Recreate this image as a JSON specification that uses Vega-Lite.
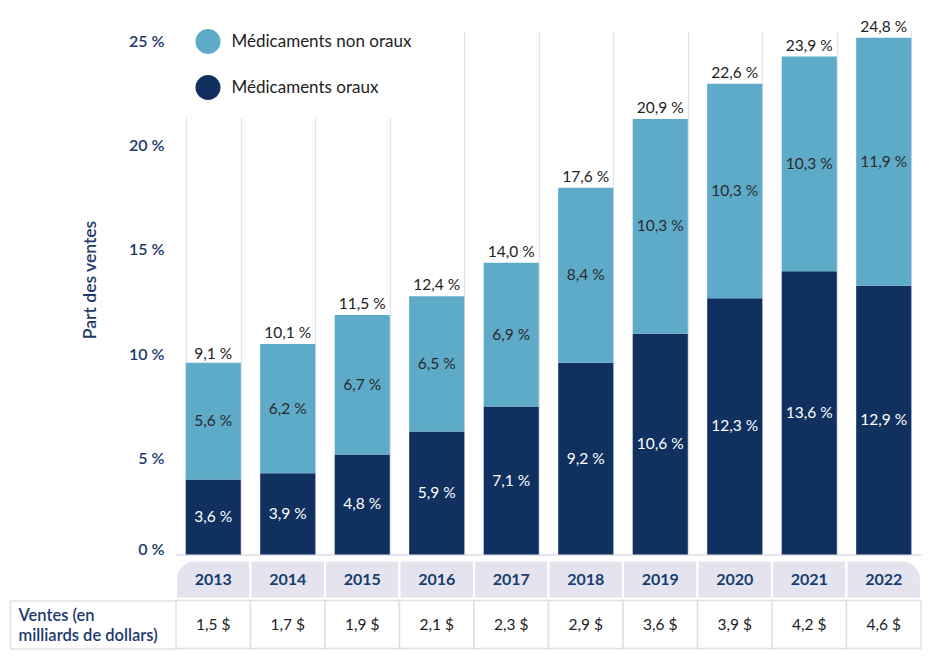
{
  "$schema": "https://vega.github.io/schema/vega-lite/v6.json",
  "padding": {"left": 9, "top": 10.5, "right": 5, "bottom": 5},
  "config": {
    "font": "Lato",
    "view": {"stroke": null},
    "locale": {"number": {"decimal": ",", "thousands": " ", "grouping": [3], "currency": ["", " $"], "percent": " %"}}
  },
  "datasets": {
    "parts": [
      {"annee": "2013", "type": "Médicaments oraux", "part": 0.036},
      {"annee": "2013", "type": "Médicaments non oraux", "part": 0.056},
      {"annee": "2014", "type": "Médicaments oraux", "part": 0.039},
      {"annee": "2014", "type": "Médicaments non oraux", "part": 0.062},
      {"annee": "2015", "type": "Médicaments oraux", "part": 0.048},
      {"annee": "2015", "type": "Médicaments non oraux", "part": 0.067},
      {"annee": "2016", "type": "Médicaments oraux", "part": 0.059},
      {"annee": "2016", "type": "Médicaments non oraux", "part": 0.065},
      {"annee": "2017", "type": "Médicaments oraux", "part": 0.071},
      {"annee": "2017", "type": "Médicaments non oraux", "part": 0.069},
      {"annee": "2018", "type": "Médicaments oraux", "part": 0.092},
      {"annee": "2018", "type": "Médicaments non oraux", "part": 0.084},
      {"annee": "2019", "type": "Médicaments oraux", "part": 0.106},
      {"annee": "2019", "type": "Médicaments non oraux", "part": 0.103},
      {"annee": "2020", "type": "Médicaments oraux", "part": 0.123},
      {"annee": "2020", "type": "Médicaments non oraux", "part": 0.103},
      {"annee": "2021", "type": "Médicaments oraux", "part": 0.136},
      {"annee": "2021", "type": "Médicaments non oraux", "part": 0.103},
      {"annee": "2022", "type": "Médicaments oraux", "part": 0.129},
      {"annee": "2022", "type": "Médicaments non oraux", "part": 0.119}
    ],
    "annees": [
      {"annee": "2013", "total": 0.091, "ventes": 1.5},
      {"annee": "2014", "total": 0.101, "ventes": 1.7},
      {"annee": "2015", "total": 0.115, "ventes": 1.9},
      {"annee": "2016", "total": 0.124, "ventes": 2.1},
      {"annee": "2017", "total": 0.140, "ventes": 2.3},
      {"annee": "2018", "total": 0.176, "ventes": 2.9},
      {"annee": "2019", "total": 0.209, "ventes": 3.6},
      {"annee": "2020", "total": 0.226, "ventes": 3.9},
      {"annee": "2021", "total": 0.239, "ventes": 4.2},
      {"annee": "2022", "total": 0.248, "ventes": 4.6}
    ]
  },
  "spacing": 0,
  "resolve": {"scale": {"x": "independent", "y": "independent", "color": "independent"}, "legend": {"color": "independent"}},
  "vconcat": [
    {
      "width": 745,
      "height": 524,
      "encoding": {
        "x": {
          "field": "annee", "type": "ordinal",
          "scale": {"paddingInner": 0.26, "paddingOuter": 0.13},
          "axis": {"title": null, "labels": false, "ticks": false, "domain": true, "domainColor": "#dddce6", "domainWidth": 1.5,
                   "grid": true, "gridColor": "#e4e3eb", "gridWidth": 1.3, "tickBand": "extent", "minExtent": 5, "maxExtent": 5}
        }
      },
      "layer": [
        {
          "data": {"name": "parts"},
          "mark": {"type": "bar"},
          "encoding": {
            "y": {
              "field": "part", "type": "quantitative", "stack": "zero",
              "scale": {"domain": [0, 0.2515], "nice": false},
              "axis": {"title": "Part des ventes", "values": [0, 0.05, 0.1, 0.15, 0.2, 0.25], "format": ".0%",
                       "grid": false, "domain": false, "ticks": false, "labelPadding": 12,
                       "labelOffset": {"condition": {"test": "datum.value === 0", "value": -5}, "value": 8},
                       "labelFontSize": 16, "labelFontWeight": 600, "labelColor": "#1c3a6b",
                       "titleFontSize": 17.5, "titleFontWeight": 600, "titleColor": "#1c3a6b", "titlePadding": 29, "titleY": 249}
            },
            "color": {
              "field": "type", "type": "nominal",
              "scale": {"domain": ["Médicaments non oraux", "Médicaments oraux"], "range": ["#5eaac9", "#10315f"]},
              "legend": {"orient": "none", "legendX": 1.5, "legendY": -19.5, "title": null, "fillColor": "white", "padding": 18,
                         "symbolType": "circle", "symbolSize": 625, "symbolStrokeWidth": 0, "labelFontSize": 17, "labelLimit": 0,
                         "labelColor": "#1e1e1e", "rowPadding": 21, "labelOffset": 11, "direction": "vertical"}
            },
            "order": {"field": "type", "sort": "descending"}
          }
        },
        {
          "data": {"name": "parts"},
          "mark": {"type": "text", "fontSize": 15.5},
          "encoding": {
            "y": {"field": "part", "type": "quantitative", "stack": "zero", "bandPosition": 0.5},
            "detail": {"field": "type"},
            "order": {"field": "type", "sort": "descending"},
            "text": {"field": "part", "type": "quantitative", "format": ".1%"},
            "color": {"condition": {"test": "datum.type === 'Médicaments oraux'", "value": "#ffffff"}, "value": "#2b2b2b"}
          }
        },
        {
          "data": {"name": "annees"},
          "mark": {"type": "text", "baseline": "bottom", "dy": -3, "fontSize": 15.5, "color": "#222222"},
          "encoding": {
            "y": {"field": "total", "type": "quantitative"},
            "text": {"field": "total", "type": "quantitative", "format": ".1%"}
          }
        }
      ]
    },
    {
      "width": 745,
      "height": 38,
      "data": {"name": "annees"},
      "encoding": {
        "x": {"field": "annee", "type": "ordinal", "scale": {"paddingInner": 0, "paddingOuter": 0}, "axis": null}
      },
      "layer": [
        {
          "mark": {"type": "bar", "fill": "#e5e4ee", "stroke": "#ffffff", "strokeWidth": 2,
                   "cornerRadiusTopLeft": {"expr": "datum.annee === '2013' ? 24 : 0"},
                   "cornerRadiusTopRight": {"expr": "datum.annee === '2022' ? 24 : 0"}}
        },
        {
          "mark": {"type": "text", "fontSize": 16, "fontWeight": "bold", "color": "#173d70"},
          "encoding": {"text": {"field": "annee", "type": "nominal"}}
        }
      ]
    },
    {
      "width": 745,
      "height": 48,
      "data": {"name": "annees"},
      "encoding": {
        "x": {"field": "annee", "type": "ordinal", "scale": {"paddingInner": 0, "paddingOuter": 0}, "axis": null},
        "y": {
          "datum": "Ventes (en milliards de dollars)", "type": "nominal",
          "scale": {"paddingInner": 0, "paddingOuter": 0},
          "axis": {"title": ["Ventes (en", "milliards de dollars)"], "titleAngle": 0, "titleAlign": "left", "titleBaseline": "middle",
                   "titleX": 8, "titleY": 15, "titleLineHeight": 20, "titleFontSize": 16.5, "titleFontWeight": 600,
                   "titleColor": "#1c3a6b", "titleLimit": 0,
                   "offset": 166, "domain": true, "domainColor": "#e0dfe8", "domainWidth": 1.5,
                   "ticks": true, "tickSize": -166, "tickBand": "extent", "tickColor": "#e0dfe8", "tickWidth": 1.5,
                   "labels": false}
        }
      },
      "layer": [
        {
          "mark": {"type": "bar", "fill": "#ffffff", "stroke": "#e0dfe8", "strokeWidth": 1.5}
        },
        {
          "mark": {"type": "text", "fontSize": 15.5, "color": "#222222"},
          "encoding": {"text": {"field": "ventes", "type": "quantitative", "format": "$.1f"}}
        }
      ]
    }
  ]
}
